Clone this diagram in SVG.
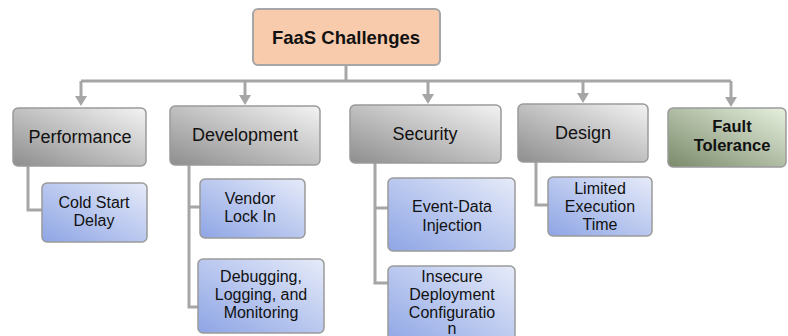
<svg xmlns="http://www.w3.org/2000/svg" width="788" height="336" viewBox="0 0 788 336">
<defs>
<linearGradient id="gGray" x1="0" y1="1" x2="1" y2="0">
<stop offset="0" stop-color="#8e8e8e"/>
<stop offset="1" stop-color="#f3f3f3"/>
</linearGradient>
<linearGradient id="gBlue" x1="0" y1="1" x2="1" y2="0">
<stop offset="0" stop-color="#8ea5e5"/>
<stop offset="1" stop-color="#e6ebf9"/>
</linearGradient>
<linearGradient id="gGreen" x1="0" y1="1" x2="1" y2="0">
<stop offset="0" stop-color="#7a8a6a"/>
<stop offset="1" stop-color="#e6f0de"/>
</linearGradient>
<path id="ah" d="M-6,0 L6,0 L0,10 Z" fill="#a6a6a6"/>
</defs>
<style>
.c{fill:none;stroke:#a6a6a6;stroke-width:3}
.box{stroke:#9a9a9a;stroke-width:1.5}
.t{font-family:"Liberation Sans",Arial,sans-serif;fill:#111;text-anchor:middle}
.h{font-size:18px}
.s{font-size:16px}
.b{font-weight:bold}
</style>
<g id="connectors">
<path class="c" d="M346,65 V81"/>
<path class="c" d="M81,81 H731"/>
<path class="c" d="M81,81 V97"/>
<path class="c" d="M245,81 V95"/>
<path class="c" d="M428,81 V94"/>
<path class="c" d="M583,81 V93"/>
<path class="c" d="M731,81 V98"/>
<use href="#ah" x="81" y="96"/>
<use href="#ah" x="245" y="95"/>
<use href="#ah" x="428" y="94"/>
<use href="#ah" x="583" y="93"/>
<use href="#ah" x="731" y="97"/>
<path class="c" d="M28,166 V210 H43"/>
<path class="c" d="M189,165 V307 H199 M189,207 H201"/>
<path class="c" d="M375,163 V283 H389 M375,208 H389"/>
<path class="c" d="M536,162 V205 H548"/>
</g>
<g id="root">
<rect x="253" y="9" width="187" height="56" rx="5" fill="#f8cbad" stroke="#a6a6a6" stroke-width="2"/>
<text class="t b" x="346" y="44" font-size="18.5">FaaS Challenges</text>
</g>
<g id="performance">
<rect class="box" x="13" y="108" width="133" height="58" rx="5" fill="url(#gGray)"/>
<text class="t h" x="80" y="143">Performance</text>
</g>
<g id="development">
<rect class="box" x="170" y="106" width="150" height="59" rx="5" fill="url(#gGray)"/>
<text class="t h" x="245" y="141">Development</text>
</g>
<g id="security">
<rect class="box" x="350" y="105" width="151" height="58" rx="5" fill="url(#gGray)"/>
<text class="t h" x="425" y="140">Security</text>
</g>
<g id="design">
<rect class="box" x="518" y="104" width="130" height="58" rx="5" fill="url(#gGray)"/>
<text class="t h" x="583" y="139">Design</text>
</g>
<g id="fault-tolerance">
<rect class="box" x="668" y="108" width="118" height="59" rx="5" fill="url(#gGreen)"/>
<text class="t b" x="732" y="132" font-size="16.5">Fault</text>
<text class="t b" x="732" y="151" font-size="16.5">Tolerance</text>
</g>
<g id="cold-start">
<rect class="box" x="42" y="183" width="105" height="59" rx="5" fill="url(#gBlue)"/>
<text class="t s" x="94" y="208">Cold Start</text>
<text class="t s" x="94" y="226">Delay</text>
</g>
<g id="vendor-lock">
<rect class="box" x="200" y="179" width="105" height="59" rx="5" fill="url(#gBlue)"/>
<text class="t s" x="250" y="204">Vendor</text>
<text class="t s" x="250" y="222">Lock In</text>
</g>
<g id="debugging">
<rect class="box" x="198" y="259" width="126" height="74" rx="5" fill="url(#gBlue)"/>
<text class="t s" x="261" y="282">Debugging,</text>
<text class="t s" x="261" y="300">Logging, and</text>
<text class="t s" x="261" y="318">Monitoring</text>
</g>
<g id="event-data">
<rect class="box" x="388" y="178" width="127" height="73" rx="5" fill="url(#gBlue)"/>
<text class="t s" x="452" y="212">Event-Data</text>
<text class="t s" x="452" y="231">Injection</text>
</g>
<g id="insecure-deployment">
<rect class="box" x="388" y="266" width="127" height="80" rx="5" fill="url(#gBlue)"/>
<text class="t s" x="452" y="282">Insecure</text>
<text class="t s" x="452" y="300">Deployment</text>
<text class="t s" x="452" y="318">Configuratio</text>
<text class="t s" x="452" y="334">n</text>
</g>
<g id="limited-execution">
<rect class="box" x="548" y="177" width="104" height="59" rx="5" fill="url(#gBlue)"/>
<text class="t s" x="600" y="194">Limited</text>
<text class="t s" x="600" y="212">Execution</text>
<text class="t s" x="600" y="230">Time</text>
</g>
</svg>
